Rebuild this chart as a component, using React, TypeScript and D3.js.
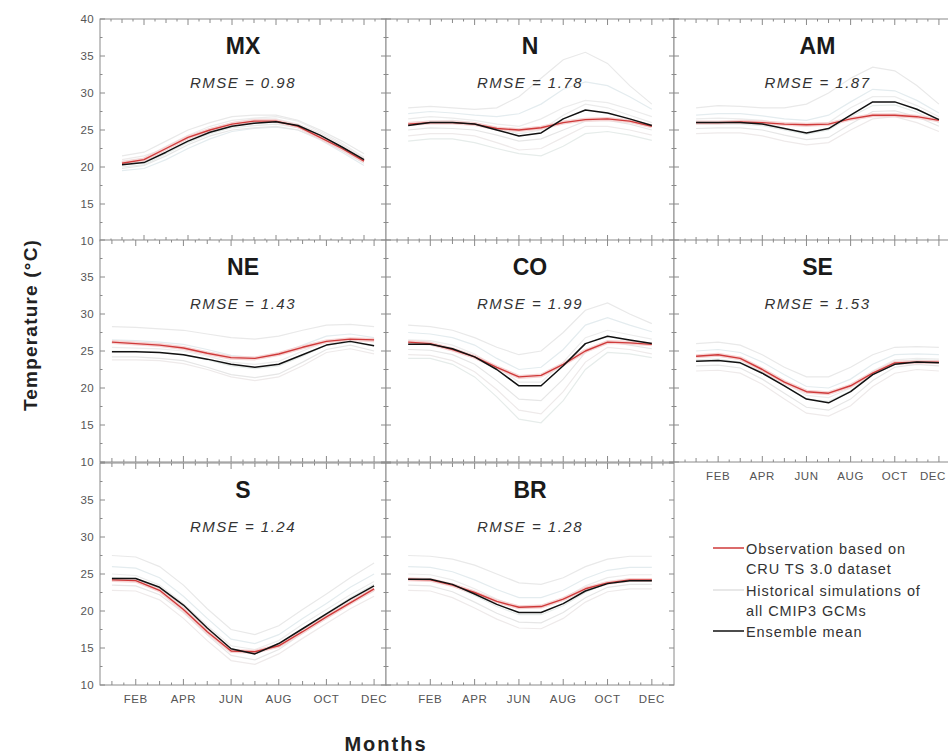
import React from "react";
import * as d3 from "d3";

const months = [1, 2, 3, 4, 5, 6, 7, 8, 9, 10, 11, 12];
const monthTickLabels = ["FEB", "APR", "JUN", "AUG", "OCT", "DEC"];
const monthTickValues = [2, 4, 6, 8, 10, 12];
const yTickValues = [10, 15, 20, 25, 30, 35, 40];

const regions = ["MX", "N", "AM", "NE", "CO", "SE", "S", "BR"];
const rmse = ["0.98", "1.78", "1.87", "1.43", "1.99", "1.53", "1.24", "1.28"];

const obsMX = [20.5, 21, 22.5, 24, 25, 25.8, 26.2, 26.2, 25.5, 24, 22.5, 20.8];
const obsN = [25.8, 26, 26, 25.8, 25.2, 25, 25.3, 26, 26.4, 26.5, 26.2, 25.5];
const obsAM = [26, 26, 26.1, 26, 25.8, 25.7, 25.8, 26.5, 27, 27, 26.8, 26.3];
const obsNE = [26.2, 26, 25.8, 25.4, 24.7, 24.1, 24, 24.6, 25.5, 26.3, 26.6, 26.5];
const obsCO = [26.2, 26, 25.2, 24.2, 22.8, 21.5, 21.7, 23.2, 25, 26.2, 26.1, 25.9];
const obsSE = [24.3, 24.5, 24, 22.5, 20.8, 19.5, 19.3, 20.3, 22, 23.4, 23.5, 23.5];
const obsS = [24.2, 24.1, 22.8, 20.2, 17.2, 14.6, 14.5, 15.3, 17.2, 19.2, 21.1, 23];
const obsBR = [24.3, 24.2, 23.5, 22.5, 21.3, 20.5, 20.6, 21.6, 23, 23.8, 24.2, 24.2];

const ensMX = [20.3, 20.6, 22, 23.5, 24.7, 25.5, 25.9, 26.1, 25.6, 24.3, 22.7, 21];
const ensN = [25.6, 26, 26, 25.8, 25, 24.2, 24.6, 26.5, 27.7, 27.3, 26.5, 25.6];
const ensAM = [26, 26, 26, 25.8, 25.2, 24.6, 25.2, 27, 28.8, 28.8, 27.8, 26.4];
const ensNE = [24.9, 24.9, 24.8, 24.5, 23.9, 23.2, 22.8, 23.2, 24.5, 25.8, 26.3, 25.7];
const ensCO = [25.9, 25.9, 25.3, 24.2, 22.5, 20.3, 20.3, 23, 26, 27, 26.5, 26];
const ensSE = [23.6, 23.7, 23.4, 22, 20.3, 18.5, 18, 19.5, 21.8, 23.2, 23.5, 23.4];
const ensS = [24.4, 24.4, 23.2, 20.8, 17.7, 14.9, 14.2, 15.6, 17.6, 19.6, 21.6, 23.4];
const ensBR = [24.3, 24.3, 23.6, 22.3, 20.9, 19.8, 19.8, 21, 22.7, 23.7, 24.1, 24.1];

const gcmMX = [
  [21.5, 22, 23.5, 25, 26, 26.8, 27, 27, 26.3, 25, 23.5, 21.8],
  [19.5, 19.8, 21, 22.5, 23.8, 24.8, 25.2, 25.4, 25, 23.7, 22, 20.2],
  [20.8, 21.2, 22.8, 24.3, 25.5, 26.3, 26.6, 26.8, 26.2, 24.8, 23.2, 21.3],
  [19.8, 20.2, 21.5, 23, 24.2, 25, 25.3, 25.5, 25, 23.8, 22.2, 20.5],
  [21, 21.5, 22.5, 24, 25.2, 26, 26.5, 26.5, 25.8, 24.6, 23, 21.2],
  [20, 20.3, 21.8, 23.3, 24.5, 25.3, 25.6, 25.8, 25.3, 24, 22.4, 20.6],
];
const gcmN = [
  [28, 28.2, 28, 27.8, 28, 29.5, 32, 34.5, 35.5, 34, 31, 28.5],
  [27.2, 27.5, 27.3, 27, 26.8, 27.2, 28.5, 30.5, 31.5, 31, 29.5, 27.8],
  [26.5, 26.8, 26.6, 26.3, 25.8, 25.5, 26.5, 28, 29, 28.7, 27.8, 26.8],
  [25, 25.3, 25.2, 25, 24.3, 23.5, 23.8, 25, 26.2, 26.3, 25.8, 25],
  [24.2, 24.5, 24.5, 24.2, 23.3, 22.3, 22.5, 24, 25.5, 25.5, 25, 24.3],
  [23.5, 23.8, 23.8, 23.3, 22.5, 21.8, 21.5, 22.8, 24.5, 24.8, 24.3, 23.6],
  [26, 26.2, 26.3, 26, 25.2, 24.5, 25, 27, 28.5, 28, 27, 26],
];
const gcmAM = [
  [28, 28.3, 28.2, 28, 28, 28.5, 30, 32, 33.5, 33, 31, 28.5],
  [27, 27.2, 27.2, 26.9, 26.5, 26.3, 27, 28.8, 30.5, 30.3, 29, 27.3],
  [26.5, 26.6, 26.5, 26.3, 25.8, 25.5, 26, 28, 29.5, 29.5, 28.3, 26.8],
  [25.2, 25.3, 25.3, 25, 24.3, 23.7, 24, 25.8, 27.5, 27.6, 26.8, 25.5],
  [24.5, 24.6, 24.6, 24.2, 23.5, 23, 23.3, 25, 26.5, 26.8, 26, 24.8],
  [25.8, 25.8, 25.8, 25.6, 25, 24.4, 25, 26.8, 28.3, 28.4, 27.4, 26],
];
const gcmNE = [
  [28.3, 28.2, 28, 27.8, 27.3, 26.8, 26.6, 27, 27.8, 28.5, 28.6, 28.3],
  [26.5, 26.4, 26.2, 25.9, 25.2, 24.4, 24.1, 24.6, 25.8, 27, 27.3, 26.8],
  [25.5, 25.4, 25.3, 25, 24.3, 23.5, 23.2, 23.6, 25, 26.3, 26.7, 26.2],
  [24.2, 24.2, 24, 23.7, 22.8, 21.8, 21.4, 21.9, 23.5, 25.2, 25.8, 25],
  [23.8, 23.8, 23.7, 23.3, 22.5, 21.5, 21, 21.5, 23, 24.8, 25.3, 24.6],
  [25, 25, 24.8, 24.5, 23.8, 23, 22.6, 23, 24.3, 25.8, 26.2, 25.7],
];
const gcmCO = [
  [28.5, 28.3, 27.8, 26.8, 25.5, 24.5, 25, 27.5, 30.5, 31.5, 30, 28.7],
  [27.5, 27.3, 26.8, 25.8, 24, 22.5, 22.8, 25.2, 28.5, 29.5, 28.5, 27.6],
  [26.5, 26.4, 25.8, 24.6, 22.8, 20.8, 20.8, 23.5, 26.8, 27.8, 27.2, 26.6],
  [25.2, 25.1, 24.5, 23.2, 21, 18.5, 18.3, 21.2, 24.8, 26.3, 25.8, 25.3],
  [24.5, 24.4, 23.7, 22.2, 19.8, 17, 16.5, 19.5, 23.5, 25.5, 25.2, 24.6],
  [24, 24, 23.2, 21.5, 18.8, 15.8, 15.3, 18.3, 22.5, 24.8, 24.6, 24.1],
];
const gcmSE = [
  [26, 26.2, 25.8, 24.5, 22.8, 21.5, 21.5, 22.8, 24.5, 25.5, 25.6, 25.5],
  [25, 25.2, 24.8, 23.5, 21.8, 20.2, 20, 21.2, 23.2, 24.5, 24.6, 24.5],
  [24.2, 24.3, 23.9, 22.5, 20.7, 19, 18.7, 20, 22.3, 23.8, 24, 23.9],
  [23, 23.1, 22.7, 21.2, 19.3, 17.4, 17, 18.5, 21, 22.8, 23.2, 23],
  [22.3, 22.4, 22, 20.5, 18.5, 16.6, 16.2, 17.6, 20.2, 22, 22.5, 22.3],
  [23.8, 23.9, 23.5, 22.2, 20.3, 18.5, 18.2, 19.6, 22, 23.5, 23.8, 23.7],
];
const gcmS = [
  [27.5, 27.3, 26, 23.5, 20.3, 17.5, 16.8, 18, 20.2, 22.3, 24.5, 26.5],
  [26, 25.8, 24.5, 22, 19, 16.2, 15.6, 16.8, 19, 21, 23.2, 25],
  [25, 24.8, 23.5, 21, 18, 15.3, 14.8, 16, 18.2, 20.2, 22.2, 24],
  [23.5, 23.4, 22.2, 19.8, 16.8, 14, 13.4, 14.8, 17, 19, 21, 22.7],
  [22.8, 22.7, 21.5, 19, 16, 13.3, 12.8, 14.2, 16.3, 18.3, 20.3, 22],
  [24.5, 24.4, 23, 20.5, 17.5, 14.8, 14.2, 15.5, 17.6, 19.7, 21.8, 23.6],
];
const gcmBR = [
  [27.5, 27.4, 27, 26.2, 25, 23.8, 23.6, 24.5, 26, 27, 27.4, 27.4],
  [26, 25.9, 25.3, 24.2, 22.9, 21.8, 21.8, 22.8, 24.4, 25.5, 25.9, 25.9],
  [25, 24.9, 24.2, 23, 21.6, 20.5, 20.5, 21.7, 23.4, 24.5, 24.9, 24.9],
  [23.5, 23.4, 22.6, 21.2, 19.7, 18.5, 18.4, 19.8, 21.8, 23.2, 23.6, 23.6],
  [22.8, 22.7, 21.8, 20.4, 18.9, 17.7, 17.6, 19, 21.2, 22.6, 23, 23],
  [24.2, 24.1, 23.4, 22.1, 20.6, 19.5, 19.5, 20.7, 22.5, 23.8, 24.2, 24.2],
];

const obsAll = [obsMX, obsN, obsAM, obsNE, obsCO, obsSE, obsS, obsBR];
const ensAll = [ensMX, ensN, ensAM, ensNE, ensCO, ensSE, ensS, ensBR];
const gcmAll = [gcmMX, gcmN, gcmAM, gcmNE, gcmCO, gcmSE, gcmS, gcmBR];

const legendLines = [
  "Observation based on",
  "CRU TS 3.0 dataset",
  "Historical simulations of",
  "all CMIP3 GCMs",
  "Ensemble mean",
];

const W = 948;
const H = 755;
const colX = [100, 386, 674];
const colW = [286, 288, 287];
const rowY = [19, 240, 463];
const PH = 222;
const xDomains: [number, number][] = [
  [0, 13], [0, 13], [0, 13],
  [0.5, 12.5], [0, 13], [0, 13],
  [0.5, 12.5], [0, 13],
];
const gcmColors = ["#e9e9e9", "#e4ecef", "#ececec", "#e6e6e6", "#eeeaea", "#e6ecea", "#ebebeb"];
const AXIS = "#8a8a8a";
const FONT = "Arial, 'Liberation Sans', Helvetica, sans-serif";

function Panel({ idx }: { idx: number }) {
  const col = idx % 3;
  const row = Math.floor(idx / 3);
  const x0 = colX[col];
  const PW = colW[col];
  const y0 = rowY[row];
  const x = d3.scaleLinear().domain(xDomains[idx]).range([x0, x0 + PW]);
  const y = d3.scaleLinear().domain([10, 40]).range([y0 + PH, y0]);
  const line = d3
    .line<number>()
    .x((_, i) => x(months[i]))
    .y((v) => y(v))
    .curve(d3.curveLinear);

  const [d0, d1] = xDomains[idx];
  const xMinor = d3.range(Math.ceil(d0 * 2) / 2, d1 + 0.01, 0.5).filter((m) => m > d0 && m < d1);
  const yMinor = d3.range(10, 40.01, 2.5);
  const showXLabels = row === 2 || idx === 5;
  const showYLabels = col === 0;
  const yLabelVals = row === 0 ? yTickValues : yTickValues.filter((v) => v < 40);

  return (
    <g>
      <rect x={x0} y={y0} width={PW} height={PH} fill="white" stroke={AXIS} strokeWidth={1} />
      {xMinor.map((m) => {
        const even = Number.isInteger(m) && m % 2 === 0;
        const isMonth = Number.isInteger(m);
        const len = even ? 6 : isMonth ? 4 : 2.5;
        return (
          <g key={"xt" + m}>
            <line x1={x(m)} x2={x(m)} y1={y0 + PH} y2={y0 + PH - len} stroke={AXIS} />
            <line x1={x(m)} x2={x(m)} y1={y0} y2={y0 + len} stroke={AXIS} />
          </g>
        );
      })}
      {yMinor.map((v) => {
        const major = v % 5 === 0;
        const len = major ? 5 : 2.5;
        return (
          <g key={"yt" + v}>
            <line x1={x0} x2={x0 + len} y1={y(v)} y2={y(v)} stroke={AXIS} />
            <line x1={x0 + PW} x2={x0 + PW - len} y1={y(v)} y2={y(v)} stroke={AXIS} />
          </g>
        );
      })}
      {gcmAll[idx].map((g, i) => (
        <path key={"g" + i} d={line(g) || ""} fill="none" stroke={gcmColors[i % gcmColors.length]} strokeWidth={1.2} />
      ))}
      <path d={line(obsAll[idx]) || ""} fill="none" stroke="#f6d4d4" strokeWidth={4} strokeLinejoin="round" />
      <path d={line(obsAll[idx]) || ""} fill="none" stroke="#cf3a3a" strokeWidth={1.4} strokeLinejoin="round" />
      <path d={line(ensAll[idx]) || ""} fill="none" stroke="#111" strokeWidth={1.5} strokeLinejoin="round" />
      <text x={x0 + PW / 2} y={y0 + 35} textAnchor="middle" fontFamily={FONT} fontWeight="bold" fontSize={23} fill="#1a1a1a">
        {regions[idx]}
      </text>
      <text
        x={x0 + PW / 2}
        y={y0 + 69}
        textAnchor="middle"
        fontFamily={FONT}
        fontStyle="italic"
        fontSize={15}
        letterSpacing={1.5}
        fill="#333"
      >
        {"RMSE = " + rmse[idx]}
      </text>
      {showXLabels &&
        monthTickValues.map((m, i) => {
          const cx = x(m);
          const clipFix = cx + 14 > W;
          return (
            <text
              key={"xl" + m}
              x={clipFix ? W - 2 : cx}
              y={y0 + PH + 18}
              textAnchor={clipFix ? "end" : "middle"}
              fontFamily={FONT}
              fontSize={11.5}
              letterSpacing={0.6}
              fill="#555"
            >
              {monthTickLabels[i]}
            </text>
          );
        })}
      {showYLabels &&
        yLabelVals.map((v) => (
          <text key={"yl" + v} x={x0 - 6} y={y(v) + 4} textAnchor="end" fontFamily={FONT} fontSize={11.5} letterSpacing={0.4} fill="#555">
            {v}
          </text>
        ))}
    </g>
  );
}

export default function App() {
  const lx1 = 713;
  const lx2 = 744;
  const ly = [548, 568, 590, 610, 631];
  return (
    <svg width={W} height={H} style={{ position: "absolute", left: 0, top: 0, background: "white" }}>
      <rect width={W} height={H} fill="white" />
      {regions.map((_, i) => (
        <Panel key={i} idx={i} />
      ))}
      <text
        transform="translate(37,325) rotate(-90)"
        textAnchor="middle"
        fontFamily={FONT}
        fontWeight="bold"
        fontSize={19}
        letterSpacing={1.2}
        fill="#222"
      >
        Temperature (°C)
      </text>
      <text x={386} y={751} textAnchor="middle" fontFamily={FONT} fontWeight="bold" fontSize={20} letterSpacing={2} fill="#222">
        Months
      </text>
      <line x1={lx1} x2={lx2} y1={ly[0]} y2={ly[0]} stroke="#cf3a3a" strokeWidth={1.5} />
      <line x1={lx1} x2={lx2} y1={ly[2]} y2={ly[2]} stroke="#e0e0e0" strokeWidth={1.5} />
      <line x1={lx1} x2={lx2} y1={ly[4]} y2={ly[4]} stroke="#111" strokeWidth={1.5} />
      {legendLines.map((t, i) => (
        <text key={t} x={lx2 + 2} y={ly[i] + 5.5} fontFamily={FONT} fontSize={14.5} letterSpacing={0.9} fill="#333">
          {t}
        </text>
      ))}
    </svg>
  );
}
